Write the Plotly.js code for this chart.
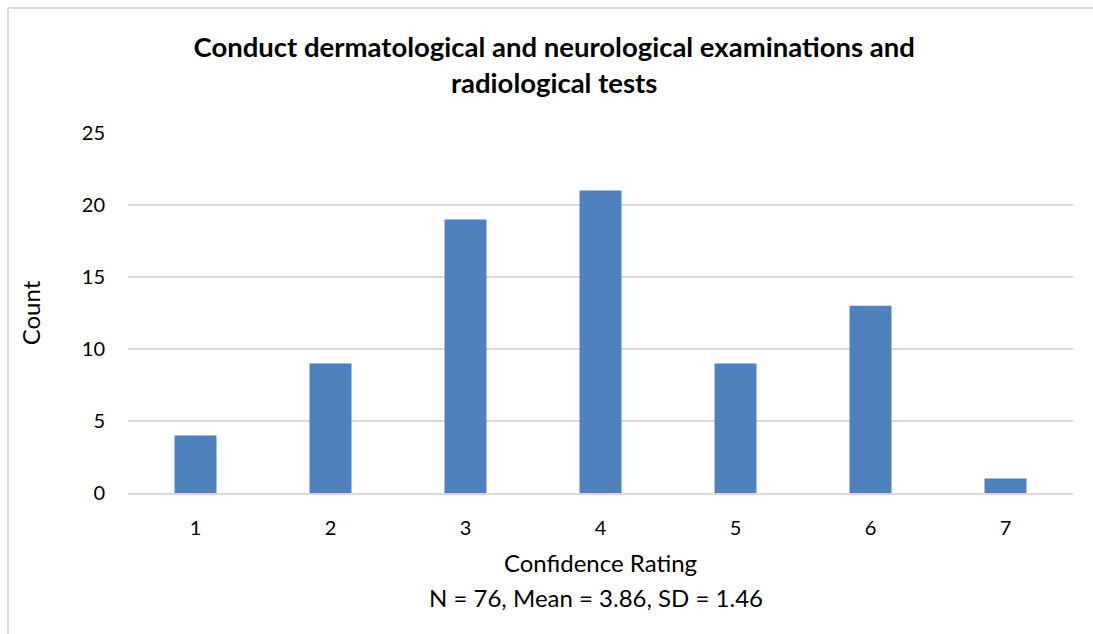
<!DOCTYPE html>
<html>
<head>
<meta charset="utf-8">
<script src="https://cdn.plot.ly/plotly-3.0.1.min.js"></script>
<style>html,body{margin:0;padding:0;background:#fff;}#chart{width:1093px;height:634px;}</style>
</head>
<body>
<div id="chart"></div>
<script>
const categories = ['1', '2', '3', '4', '5', '6', '7'];
const counts = [4, 9, 19, 21, 9, 13, 1];
const yTicks = [0, 5, 10, 15, 20, 25];
const chartTitle = 'Conduct dermatological and neurological examinations and<br>radiological tests';
const xTitle = 'Confidence Rating';
const yTitle = 'Count';
const summary = 'N = 76, Mean = 3.86, SD = 1.46';

const FONT = 'Lato, "Open Sans", sans-serif';

const trace = {
  type: 'bar',
  x: categories,
  y: counts,
  marker: {color: '#4f81bd'},
  hoverinfo: 'x+y'
};

const layout = {
  width: 1093,
  height: 634,
  margin: {l: 128, r: 20, t: 133, b: 141},
  paper_bgcolor: '#ffffff',
  plot_bgcolor: '#ffffff',
  bargap: 0.689,
  showlegend: false,
  font: {family: FONT, color: '#000000', size: 20},
  title: {
    text: chartTitle,
    font: {family: FONT, size: 27.5, color: '#000000', weight: 'bold'},
    x: 0.507, xref: 'container', xanchor: 'center',
    y: 1 - 57 / 634, yref: 'container', yanchor: 'top'
  },
  xaxis: {
    type: 'category',
    showgrid: false,
    showline: true,
    linecolor: '#d9d9d9',
    linewidth: 2,
    ticks: '',
    ticklabelstandoff: 16,
    tickfont: {family: FONT, size: 20, color: '#000'},
    title: {text: xTitle, font: {family: FONT, size: 24, color: '#000'}, standoff: 17}
  },
  yaxis: {
    range: [0, 25],
    tickvals: yTicks,
    showgrid: true,
    gridcolor: '#d9d9d9',
    gridwidth: 1.5,
    zeroline: false,
    showline: false,
    ticks: '',
    ticklabelstandoff: 22,
    tickfont: {family: FONT, size: 20, color: '#000'},
    title: {text: yTitle, font: {family: FONT, size: 24, color: '#000'}, standoff: 34}
  },
  annotations: [
    {
      text: summary,
      xref: 'paper', yref: 'paper',
      x: (596 - 128) / 945, y: (493 - 597) / 360,
      xanchor: 'center', yanchor: 'middle',
      showarrow: false,
      font: {family: FONT, size: 24, color: '#000'}
    }
  ],
  shapes: [
    {type: 'line', xref: 'paper', yref: 'paper',
     x0: (8 - 128) / 945, x1: (8 - 128) / 945, y0: 1 + (133 - 8) / 360, y1: -(141 + 10) / 360,
     line: {color: '#d9d9d9', width: 2}},
    {type: 'line', xref: 'paper', yref: 'paper',
     x0: (8 - 128) / 945, x1: (1100 - 128) / 945, y0: 1 + (133 - 8) / 360, y1: 1 + (133 - 8) / 360,
     line: {color: '#d9d9d9', width: 2}}
  ]
};

Plotly.newPlot('chart', [trace], layout, {displayModeBar: false});
</script>
</body>
</html>
